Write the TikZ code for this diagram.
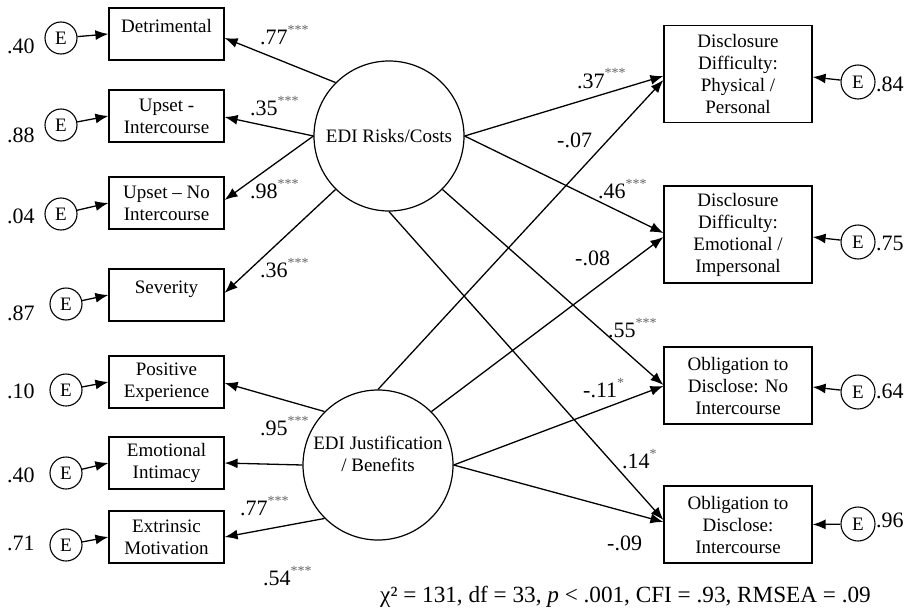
\documentclass[tikz,border=0pt]{standalone}
\usepackage{fontspec}
\setmainfont{Liberation Serif}
\usetikzlibrary{arrows.meta}
\definecolor{starcol}{gray}{0.4}
\newcommand{\sig}[1]{\textcolor{starcol}{\raisebox{10pt}{\fontsize{14}{14}\selectfont #1}}}
\begin{document}
\begin{tikzpicture}[x=1pt,y=-1pt,
  every node/.style={font=\fontsize{19}{22}\selectfont},
  lbox/.style={draw, line width=1.2pt, minimum width=115pt, minimum height=52pt, align=center, inner sep=2pt},
  rbox/.style={draw, line width=1.2pt, minimum width=148pt, align=center, inner sep=2pt},
  err/.style={draw, circle, line width=1.1pt, minimum size=32pt, inner sep=0pt},
  lat/.style={draw, circle, line width=1.2pt, minimum size=150pt, inner sep=0pt, align=center},
  arr/.style={line width=1.3pt, -{Latex[length=13pt,width=10pt]}},
  coef/.style={font=\fontsize{22}{22}\selectfont, anchor=base west, inner sep=0pt},
]
\useasboundingbox (0,0) rectangle (912,610);

% latent variables
\node[lat] (risk) at (389,136) {EDI Risks/Costs};
\node[lat] (jus) at (378,465) {EDI Justification\\ / Benefits\\ \phantom{X}};

% left indicators
\node[lbox] (det) at (166.5,34) {Detrimental\\[-6pt] \phantom{X}};
\node[lbox] (upi) at (166.5,116) {Upset -\\ Intercourse};
\node[lbox] (upn) at (166.5,203) {Upset -- No\\ Intercourse};
\node[lbox] (sev) at (166.5,295) {Severity\\[-6pt] \phantom{X}};
\node[lbox] (pos) at (166.5,382) {Positive\\ Experience};
\node[lbox] (emo) at (166.5,463) {Emotional\\ Intimacy};
\node[lbox] (ext) at (166.5,537) {Extrinsic\\ Motivation};

% right outcomes
\node[rbox, minimum height=97pt] (phy) at (738,74) {Disclosure\\ Difficulty:\\ Physical /\\ Personal};
\node[rbox, minimum height=97pt] (emi) at (738,234.5) {Disclosure\\ Difficulty:\\ Emotional /\\ Impersonal};
\node[rbox, minimum height=77pt] (obn) at (738,385.5) {Obligation to\\ Disclose: No\\ Intercourse};
\node[rbox, minimum height=77pt] (obi) at (738,524.5) {Obligation to\\ Disclose:\\ Intercourse};

% left error terms
\node[err] (e1) at (61,38) {E};
\node[err] (e2) at (61,125) {E};
\node[err] (e3) at (61,214) {E};
\node[err] (e4) at (66,304) {E};
\node[err] (e5) at (66,390) {E};
\node[err] (e6) at (66,473) {E};
\node[err] (e7) at (66,545) {E};

% right error terms
\node[err, minimum size=34pt] (r1) at (858,82) {E};
\node[err, minimum size=34pt] (r2) at (858,242) {E};
\node[err, minimum size=34pt] (r3) at (858,392) {E};
\node[err, minimum size=34pt] (r4) at (858,524) {E};

% error arrows
\draw[arr] (e1) -- (det.west);
\draw[arr] (e2) -- (upi.west);
\draw[arr] (e3) -- (upn.west);
\draw[arr] (e4) -- (sev.west);
\draw[arr] (e5) -- (pos.west);
\draw[arr] (e6) -- (emo.west);
\draw[arr] (e7) -- (ext.west);
\draw[arr] (r1) -- ([yshift=-3pt]phy.east);
\draw[arr] (r2) -- ([yshift=-2.5pt]emi.east);
\draw[arr] (r3) -- ([yshift=-1.5pt]obn.east);
\draw[arr] (r4) -- (obi.east);

% loadings
\draw[arr] (risk.135) -- ([yshift=-4pt]det.east);
\draw[arr] (risk.180) -- ([yshift=-1pt]upi.east);
\draw[arr] (risk.180) -- ([yshift=3pt]upn.east);
\draw[arr] (risk.225) -- ([yshift=2pt]sev.east);
\draw[arr] (jus.135) -- ([yshift=-1pt]pos.east);
\draw[arr] (jus.180) -- (emo.east);
\draw[arr] (jus.225) -- (ext.east);

% structural paths
\draw[arr] (risk.0) -- ([yshift=-2pt]phy.west);
\draw[arr] (risk.0) -- ([yshift=1.5pt]emi.west);
\draw[arr] (risk.-45) -- ([yshift=0.5pt]obn.west);
\draw[arr] (risk.270) -- ([yshift=4.5pt]obi.west);
\draw[arr] (jus.90) -- ([yshift=-6pt]phy.west);
\draw[arr] (jus.45) -- ([yshift=-2.5pt]emi.west);
\draw[arr] (jus.0) -- ([yshift=-0.5pt]obn.west);
\draw[arr] (jus.0) -- ([yshift=2.5pt]obi.west);

% coefficients
\node[coef] (c1) at (260,45) {.77\sig{***}};
\node[coef] (c2) at (250,115) {.35\sig{***}};
\node[coef] (c3) at (250,198) {.98\sig{***}};
\node[coef] (c4) at (260,277) {.36\sig{***}};
\node[coef] (c5) at (260,435) {.95\sig{***}};
\node[coef] (c6) at (240,515) {.77\sig{***}};
\node[coef] (c7) at (263,585) {.54\sig{***}};
\node[coef] (c8) at (577,88) {.37\sig{***}};
\node[coef] (c9) at (557,147) {-.07};
\node[coef] (c10) at (598,198) {.46\sig{***}};
\node[coef] (c11) at (575,265) {-.08};
\node[coef] (c12) at (608,337) {.55\sig{***}};
\node[coef] (c13) at (583,397) {-.11\sig{*}};
\node[coef] (c14) at (622,468) {.14\sig{*}};
\node[coef] (c15) at (607,550) {-.09};

% residual variances
\node[coef] (v1) at (7,53) {.40};
\node[coef] (v2) at (7,142) {.88};
\node[coef] (v3) at (7,223) {.04};
\node[coef] (v4) at (7,320) {.87};
\node[coef] (v5) at (7,398) {.10};
\node[coef] (v6) at (7,482) {.40};
\node[coef] (v7) at (7,550) {.71};
\node[coef] (v8) at (876,92) {.84};
\node[coef] (v9) at (876,250) {.75};
\node[coef] (v10) at (876,398) {.64};
\node[coef] (v11) at (876,527) {.96};

% fit
\node[coef, font=\fontsize{23.2}{23.2}\selectfont] (fit) at (380,602) {χ² = 131, df = 33, \textit{p} < .001, CFI = .93, RMSEA = .09};
\end{tikzpicture}
\end{document}
